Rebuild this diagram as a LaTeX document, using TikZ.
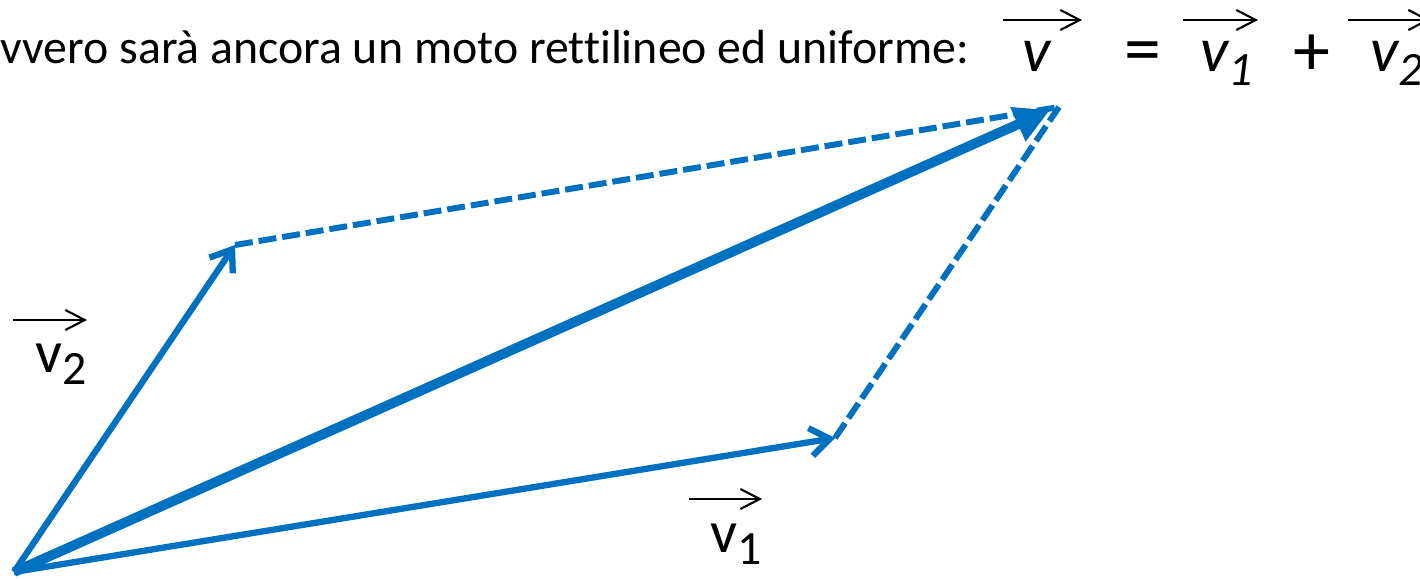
\documentclass[tikz,border=0pt]{standalone}
\usepackage{fontspec}
\setmainfont{Carlito}[Ligatures=NoCommon]
\usepackage{xcolor}
\usetikzlibrary{arrows.meta,positioning}
\definecolor{vecblue}{HTML}{0070C0}

\begin{document}
\begin{tikzpicture}[
  x=0.01cm, y=-0.01cm,
  font=\fontsize{13.6}{15}\selectfont,
  vec/.style={vecblue, line width=1.8pt,
    -{Straight Barb[length=5.5pt, width=8pt]}},
  sumvec/.style={vecblue, line width=2.8pt,
    -{Triangle[length=10pt, width=10pt]}},
  comp/.style={vecblue, line width=1.7pt, dash pattern=on 5.1pt off 1.7pt},
  overarrow/.style={black, line width=0.6pt,
    -{Straight Barb[length=5.5pt, width=5.7pt]}},
  lbl/.style={inner sep=0pt, anchor=base west, font=\fontsize{17}{18}\selectfont},
  frm/.style={inner sep=0pt, font=\fontsize{18}{18}\selectfont},
  op/.style={inner sep=0pt, anchor=base, font=\fontsize{21}{21}\selectfont}
]
\useasboundingbox (0,0) rectangle (1420,579);

% ----- subscript helper -----
\def\sub#1#2{\raisebox{-#1}{\fontsize{13.6}{14}\selectfont #2}}

% ----- testo in alto -----
\node[inner sep=0pt, anchor=base west] (intro) at (0,64)
  {vvero sarà ancora un moto rettilineo ed uniforme:};

% ----- formula: v = v1 + v2 -----
\node[frm, anchor=base west] (fv)  at (1022,72) {\itshape v};
\node[op]                    (feq) at (1143,74) {=};
\node[frm, anchor=base west] (fv1) at (1200,72) {\itshape v\sub{3.7pt}{1}};
\node[op]                    (fpl) at (1312,76) {+};
\node[frm, anchor=base west] (fv2) at (1370,72) {\itshape v\sub{3.7pt}{2}};
\draw[overarrow] (1003,20) -- (1082,20);
\draw[overarrow] (1183,20) -- (1258,20);
\draw[overarrow] (1348,20) -- (1430,20);

% ----- punti del parallelogramma -----
\coordinate (O)  at (14,572);
\coordinate (P1) at (835,438);
\coordinate (P2) at (235,245);
\coordinate (S)  at (1059,107);
\coordinate (Sh) at (1050,110);

% ----- lati tratteggiati -----
\draw[comp] (P2) -- (S);
\draw[comp] (P1) -- (S);

% ----- vettori -----
\draw[vec] (O) -- (P1);
\draw[vec] (O) -- (P2);
\draw[sumvec] (O) -- (Sh);

% ----- etichette v1, v2 -----
\node[lbl] (lv2) at (35,373) {v\sub{3.4pt}{2}};
\node[lbl] (lv1) at (710,553) {v\sub{3.4pt}{1}};
\draw[overarrow] (13,320) -- (87,320);
\draw[overarrow] (689,499) -- (762,499);
\end{tikzpicture}
\end{document}
